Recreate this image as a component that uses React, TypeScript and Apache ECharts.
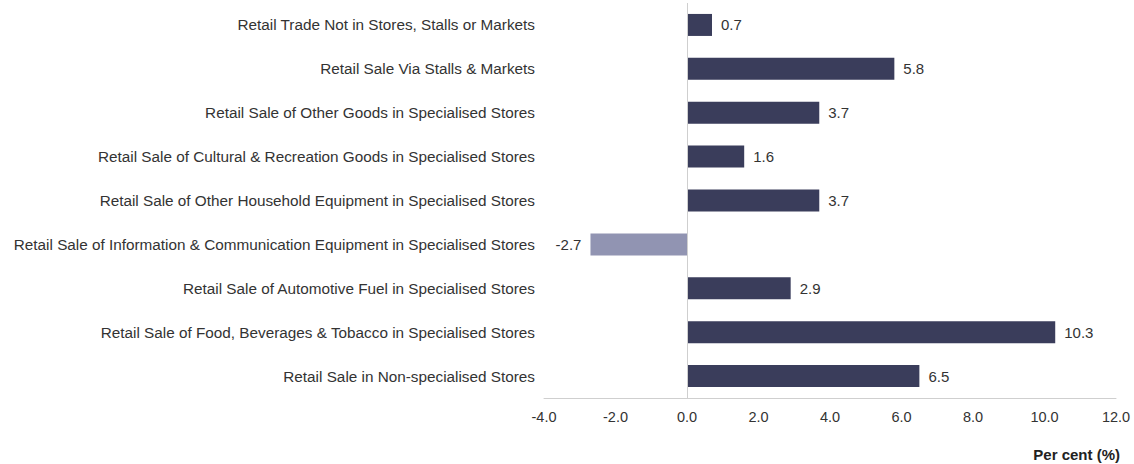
import React, { useEffect, useRef } from "react";
import * as echarts from "echarts";

const categories = [
  "Retail Trade Not in Stores, Stalls or Markets",
  "Retail Sale Via Stalls & Markets",
  "Retail Sale of Other Goods in Specialised Stores",
  "Retail Sale of Cultural & Recreation Goods in Specialised Stores",
  "Retail Sale of Other Household Equipment in Specialised Stores",
  "Retail Sale of Information & Communication Equipment in Specialised Stores",
  "Retail Sale of Automotive Fuel in Specialised Stores",
  "Retail Sale of Food, Beverages & Tobacco in Specialised Stores",
  "Retail Sale in Non-specialised Stores",
];
const values = [0.7, 5.8, 3.7, 1.6, 3.7, -2.7, 2.9, 10.3, 6.5];
const axisTitle = "Per cent (%)";

const POS = "#3a3d5b";
const NEG = "#9194b2";
const FONT = "Liberation Sans, Arial, sans-serif";

export default function App() {
  const ref = useRef<HTMLDivElement>(null);
  useEffect(() => {
    if (!ref.current) return;
    const chart = echarts.init(ref.current, null, { renderer: "svg" });
    chart.setOption({
      animation: false,
      textStyle: { fontFamily: FONT },
      grid: { left: 544, right: 18, top: 3, bottom: 66 },
      xAxis: {
        type: "value",
        min: -4,
        max: 12,
        interval: 2,
        axisLine: { show: true, onZero: false, lineStyle: { color: "#cfcfcf" } },
        axisTick: { show: false },
        splitLine: { show: false },
        axisLabel: {
          color: "#333",
          fontSize: 14.5,
          margin: 11,
          fontFamily: FONT,
          formatter: (v: number) => v.toFixed(1),
        },
      },
      yAxis: {
        type: "category",
        data: categories,
        inverse: true,
        axisLine: { show: false, onZero: false },
        axisTick: { show: false },
        axisLabel: { color: "#333", fontSize: 15.3, margin: 9, fontFamily: FONT },
      },
      series: [
        {
          type: "bar",
          barWidth: 22,
          data: values.map((v) => ({
            value: v,
            itemStyle: { color: v < 0 ? NEG : POS },
            label: { position: v < 0 ? "left" : "right" },
          })),
          label: {
            show: true,
            color: "#333",
            fontSize: 15,
            distance: 9,
            fontFamily: FONT,
            formatter: (p: any) => Number(p.value).toFixed(1),
          },
          markLine: {
            silent: true,
            symbol: "none",
            label: { show: false },
            lineStyle: { color: "#cfcfcf", width: 1, type: "solid" },
            data: [{ xAxis: 0 }],
          },
        },
      ],
      graphic: [
        {
          type: "text",
          right: 14,
          top: 447,
          style: {
            text: axisTitle,
            fontSize: 15,
            fontWeight: "bold",
            fill: "#222",
            fontFamily: FONT,
          },
        },
      ],
    });
    return () => chart.dispose();
  }, []);
  return <div ref={ref} style={{ width: 1134, height: 464, position: "absolute", left: 0, top: 0 }} />;
}
